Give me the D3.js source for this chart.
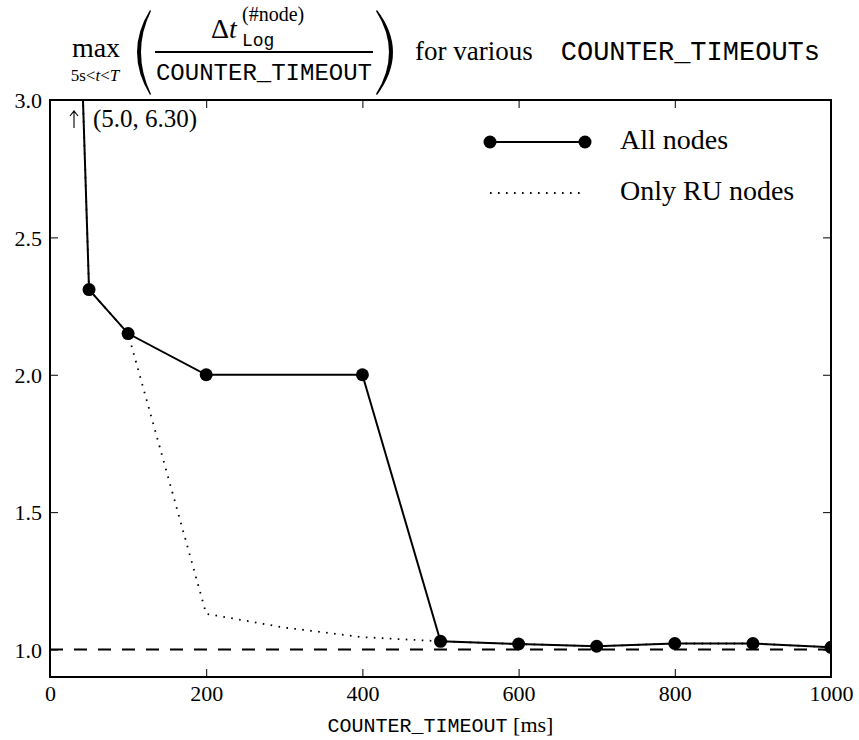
<!DOCTYPE html>
<html>
<head>
<meta charset="utf-8">
<script src="https://cdn.jsdelivr.net/npm/d3@7"></script>
<style>
  body { margin: 0; background: #fff; }
  svg { display: block; }
  .serif { font-family: "Liberation Serif", "DejaVu Serif", serif; }
  .mono { font-family: "Liberation Mono", "DejaVu Sans Mono", monospace; }
</style>
</head>
<body>
<div id="chart"></div>
<script>
// Data
var timeouts = [5, 50, 100, 200, 400, 500, 600, 700, 800, 900, 1000];
var allNodes = [6.30, 2.31, 2.15, 2.00, 2.00, 1.03, 1.02, 1.012, 1.022, 1.022, 1.008];
var ruTimeouts = [5, 50, 100, 200, 300, 400, 500, 600, 700, 800, 900, 1000];
var ruNodes = [6.30, 2.31, 2.15, 1.13, 1.08, 1.045, 1.03, 1.02, 1.012, 1.022, 1.022, 1.008];
var xTicks = [0, 200, 400, 600, 800, 1000];
var yTicks = [1.0, 1.5, 2.0, 2.5, 3.0];
var legendLabels = ["All nodes", "Only RU nodes"];
var baseline = 1.0;

var W = 859, H = 740;
var margin = {top: 100, right: 28, bottom: 63, left: 50};
var width = W - margin.left - margin.right,
    height = H - margin.top - margin.bottom;

var svg = d3.select("#chart").append("svg")
    .attr("width", W)
    .attr("height", H);

var g = svg.append("g")
    .attr("transform", "translate(" + margin.left + "," + margin.top + ")");

var x = d3.scaleLinear().domain([0, 1000]).range([0, width]);
var y = d3.scaleLinear().domain([0.9, 3.0]).range([height, 0]);

g.append("clipPath").attr("id", "plotclip")
  .append("rect").attr("width", width).attr("height", height);

// Axes, ticks pointing inward on all four sides
var fmt = d3.format(".1f");
var xAxis = g.append("g").attr("transform", "translate(0," + height + ")")
    .call(d3.axisBottom(x).tickValues(xTicks).tickSize(-8).tickFormat(d3.format("d")));
var yAxis = g.append("g")
    .call(d3.axisLeft(y).tickValues(yTicks).tickSize(-8).tickPadding(8).tickFormat(fmt));
var xTop = g.append("g")
    .call(d3.axisTop(x).tickValues(xTicks).tickSize(-8).tickFormat(""));
var yRight = g.append("g").attr("transform", "translate(" + width + ",0)")
    .call(d3.axisRight(y).tickValues(yTicks).tickSize(-8).tickFormat(""));

[xAxis, yAxis, xTop, yRight].forEach(function(a) {
  a.select(".domain").remove();
  a.selectAll(".tick line").attr("stroke", "#000").attr("stroke-width", 1);
  a.selectAll("text").attr("class", "serif").attr("font-size", 22).attr("fill", "#000");
});
xAxis.selectAll("text").attr("y", 24).attr("dy", null);
yAxis.selectAll("text").attr("dy", "0.35em");

// Data layer
var plot = g.append("g").attr("clip-path", "url(#plotclip)");

plot.append("line")
    .attr("x1", x(0)).attr("x2", x(1000))
    .attr("y1", y(baseline)).attr("y2", y(baseline))
    .attr("stroke", "#000").attr("stroke-width", 2)
    .attr("stroke-dasharray", "13,11");

var line = d3.line()
    .x(function(d) { return x(d[0]); })
    .y(function(d) { return y(d[1]); });

plot.append("path")
    .datum(d3.zip(ruTimeouts, ruNodes))
    .attr("d", line)
    .attr("fill", "none").attr("stroke", "#000").attr("stroke-width", 1.8)
    .attr("stroke-dasharray", "1.6,6.4");

plot.append("path")
    .datum(d3.zip(timeouts, allNodes))
    .attr("d", line)
    .attr("fill", "none").attr("stroke", "#000").attr("stroke-width", 2);

plot.selectAll(".dot")
    .data(d3.zip(timeouts, allNodes))
  .enter().append("circle")
    .attr("class", "dot")
    .attr("cx", function(d) { return x(d[0]); })
    .attr("cy", function(d) { return y(d[1]); })
    .attr("r", 6.5)
    .attr("fill", "#000");

// Frame
g.append("rect")
    .attr("width", width).attr("height", height)
    .attr("fill", "none").attr("stroke", "#000").attr("stroke-width", 2);

// Annotation for the clipped first point (arrow drawn as a path)
g.append("path")
    .attr("d", "M24,11 L24,28 M20,16 L24,11 L28,16")
    .attr("fill", "none").attr("stroke", "#000").attr("stroke-width", 1.1);
g.append("text").attr("class", "serif").attr("font-size", 25).attr("fill", "#000")
    .attr("x", 43).attr("y", 27)
    .text("(" + timeouts[0].toFixed(1) + ", " + allNodes[0].toFixed(2) + ")");

// Legend
var leg = g.append("g").attr("transform", "translate(440,42)");
leg.append("line").attr("x1", 0).attr("x2", 95).attr("y1", 0).attr("y2", 0)
    .attr("stroke", "#000").attr("stroke-width", 2);
leg.selectAll(".ldot").data([0, 95]).enter().append("circle")
    .attr("cx", function(d) { return d; }).attr("cy", 0).attr("r", 6.5).attr("fill", "#000");
leg.append("line").attr("x1", 0).attr("x2", 95).attr("y1", 51).attr("y2", 51)
    .attr("stroke", "#000").attr("stroke-width", 1.8).attr("stroke-dasharray", "1.6,6.4");
leg.selectAll(".ltext").data(legendLabels).enter().append("text")
    .attr("class", "serif").attr("font-size", 28)
    .attr("x", 130).attr("y", function(d, i) { return 7 + i * 51; })
    .text(function(d) { return d; });

// X label
var xl = svg.append("text").attr("text-anchor", "middle")
    .attr("x", margin.left + width / 2).attr("y", 732);
xl.append("tspan").attr("class", "mono").attr("font-size", 20).text("COUNTER_TIMEOUT");
xl.append("tspan").attr("class", "serif").attr("font-size", 22).text(" [ms]");

// Title
var t = svg.append("g");
t.append("text").attr("class", "serif").attr("font-size", 28)
    .attr("x", 96).attr("y", 57).attr("text-anchor", "middle").text("max");
var sub = t.append("text").attr("class", "serif").attr("font-size", 17)
    .attr("x", 95).attr("y", 81).attr("text-anchor", "middle");
sub.append("tspan").text("5s<");
sub.append("tspan").attr("font-style", "italic").text("t");
sub.append("tspan").text("<");
sub.append("tspan").attr("font-style", "italic").text("T");

t.append("path").attr("fill", "#000")
    .attr("d", "M150,10 Q124,52 150,95 L151,94 Q131,52 151,11 Z");
t.append("path").attr("fill", "#000")
    .attr("d", "M377,10 Q409,52 377,95 L376,94 Q402,52 376,11 Z");

t.append("line").attr("x1", 155).attr("x2", 373).attr("y1", 52).attr("y2", 52)
    .attr("stroke", "#000").attr("stroke-width", 2);

var num = t.append("text").attr("class", "serif").attr("font-size", 28)
    .attr("x", 211).attr("y", 38);
num.append("tspan").text("\u0394");
num.append("tspan").attr("font-style", "italic").text("t");
t.append("text").attr("class", "mono").attr("font-size", 18)
    .attr("x", 242).attr("y", 46).text("Log");
t.append("text").attr("class", "serif").attr("font-size", 20)
    .attr("x", 242).attr("y", 21).text("(#node)");

t.append("text").attr("class", "mono").attr("font-size", 24)
    .attr("x", 264).attr("y", 80).attr("text-anchor", "middle").text("COUNTER_TIMEOUT");

t.append("text").attr("class", "serif").attr("font-size", 27)
    .attr("x", 415).attr("y", 60).text("for various");
t.append("text").attr("class", "mono").attr("font-size", 27)
    .attr("x", 820).attr("y", 60).attr("text-anchor", "end").text("COUNTER_TIMEOUTs");
</script>
</body>
</html>
